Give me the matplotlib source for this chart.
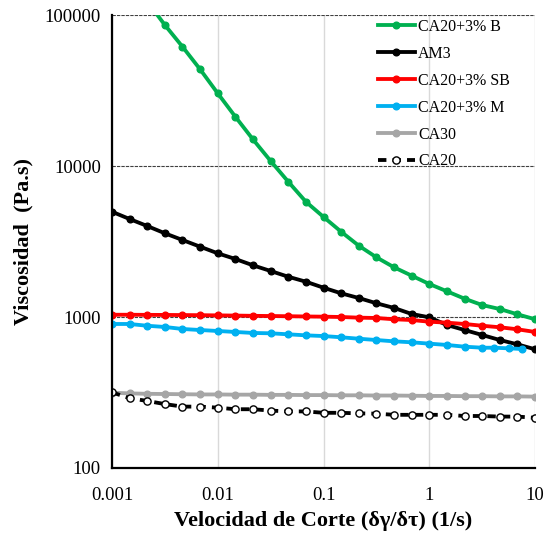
import numpy as np
import matplotlib
matplotlib.use("Agg")
import matplotlib.pyplot as plt

plt.rcParams['font.family'] = ['Liberation Serif', 'DejaVu Serif']

# shear rate: 6 points per decade, 0.001 .. 10
shear = 10 ** np.linspace(-3, 1, 25)
# blue series has its last three points at other rates
shear_m = np.concatenate([shear[:22], [4.1, 5.7, 7.5]])

ca20_b = [250000, 174000, 123000, 85900, 61700, 43700, 30300, 21200, 15000, 10800,
          7870, 5800, 4600, 3670, 2967, 2485, 2134, 1878, 1654, 1480, 1322, 1200,
          1129, 1042, 966]
am3 = [4980, 4457, 4005, 3585, 3236, 2922, 2641, 2422, 2199, 2017, 1848, 1713,
       1563, 1435, 1336, 1233, 1148, 1047, 995, 885, 820, 760, 704, 659, 611]
ca20_sb = [1035, 1035, 1033, 1032, 1030, 1028, 1025, 1022, 1018, 1015, 1012, 1008,
           1005, 1000, 990, 985, 966, 955, 931, 917, 899, 875, 855, 829, 796]
ca20_m = [899, 899, 875, 859, 833, 820, 808, 796, 784, 780, 768, 756,
          748, 734, 718, 704, 690, 680, 666, 653, 636, 626, 626, 620, 614]
ca30 = [315, 312, 310, 309, 308, 307, 307, 306, 306, 305, 305, 304,
        304, 303, 303, 302, 302, 301, 300, 300, 299, 299, 298, 298, 297]
ca20 = [317, 290, 278, 265, 255, 255, 251, 245, 245, 240, 237, 237,
        232, 232, 230, 229, 225, 225, 225, 225, 221, 221, 219, 219, 215]

labels = ['CA20+3% B', 'AM3', 'CA20+3% SB', 'CA20+3% M', 'CA30', 'CA20']

fig = plt.figure(figsize=(5.46, 5.34), dpi=100)
ax = fig.add_axes([0.205, 0.1236, 0.775, 0.8483])

lw = 2.75
ms = 4.8
ax.plot(shear, ca20_b, '-o', color='#00B050', lw=lw, ms=ms, label=labels[0], zorder=3)
ax.plot(shear, am3, '-o', color='black', lw=lw, ms=ms, label=labels[1], zorder=3)
ax.plot(shear, ca20_sb, '-o', color='#FF0000', lw=lw, ms=ms, label=labels[2], zorder=3)
ax.plot(shear_m, ca20_m, '-o', color='#00B0F0', lw=lw, ms=ms, label=labels[3], zorder=3)
ax.plot(shear, ca30, '-o', color='#A6A6A6', lw=lw, ms=ms, label=labels[4], zorder=3)
ax.plot(shear, ca20, 'o', linestyle=(0, (2.2, 1.6)), color='black', lw=lw, ms=5.2,
        mfc='white', mec='black', mew=1.0, label=labels[5], zorder=3)

ax.set_xscale('log')
ax.set_yscale('log')
ax.set_xlim(0.001, 10)
ax.set_ylim(100, 100000)

xt = [0.001, 0.01, 0.1, 1, 10]
yt = [100, 1000, 10000, 100000]
ax.set_xticks(xt)
ax.set_xticklabels(['0.001', '0.01', '0.1', '1', '10'])
ax.set_yticks(yt)
ax.set_yticklabels(['100', '1000', '10000', '100000'])
ax.minorticks_off()
ax.tick_params(length=0, labelsize=13.5)
ax.tick_params(axis='x', pad=14)
ax.tick_params(axis='y', pad=8)

for x in xt:
    ax.axvline(x, color='#D9D9D9', lw=1.0, zorder=1)
for y in yt[1:]:
    ax.axhline(y, color='#404040', lw=0.8, linestyle=(0, (3, 1)), zorder=1)

for s in ['top', 'right']:
    ax.spines[s].set_visible(False)
for s in ['left', 'bottom']:
    ax.spines[s].set_linewidth(1.6)
    ax.spines[s].set_zorder(4)

ax.set_xlabel('Velocidad de Corte (δγ/δτ) (1/s)', fontsize=16, fontweight='bold', labelpad=5)
ax.set_ylabel('Viscosidad  (Pa.s)', fontsize=16, fontweight='bold', labelpad=8)

ax.legend(loc='upper left', frameon=False, fontsize=11.5, handlelength=2.3,
          labelspacing=0.68, handletextpad=0.2, borderaxespad=0, borderpad=0,
          bbox_to_anchor=(0.629, 0.991))

fig.savefig('out.png', dpi=100)
